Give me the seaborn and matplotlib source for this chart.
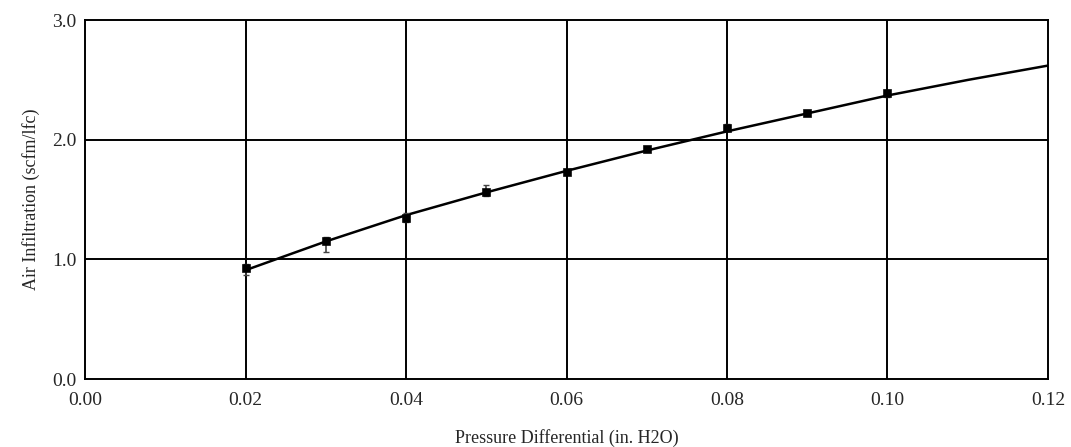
# Air infiltration vs pressure differential, measured points and fitted curve

import numpy as np
import pandas as pd
import matplotlib
matplotlib.use('Agg')
import matplotlib.pyplot as plt
import seaborn as sns

pressure = [0.02, 0.03, 0.04, 0.05, 0.06, 0.07, 0.08, 0.09, 0.10]
infiltration = [0.93, 1.15, 1.35, 1.56, 1.73, 1.92, 2.10, 2.22, 2.39]
err_low = [0.06, 0.09, 0.04, 0.03, 0.02, 0.01, 0.03, 0.01, 0.03]
err_high = [0.03, 0.04, 0.04, 0.06, 0.02, 0.01, 0.03, 0.01, 0.03]

# Fitted curve
fit_pressure = [0.02, 0.03, 0.04, 0.05, 0.06, 0.07, 0.08, 0.09, 0.10, 0.11, 0.12]
fit_infiltration = [0.91, 1.15, 1.37, 1.56, 1.74, 1.91, 2.07, 2.22, 2.37, 2.50, 2.62]

x_ticks = [0.00, 0.02, 0.04, 0.06, 0.08, 0.10, 0.12]
y_ticks = [0.0, 1.0, 2.0, 3.0]

points = pd.DataFrame({'pressure': pressure, 'infiltration': infiltration})
fit = pd.DataFrame({'pressure': fit_pressure, 'infiltration': fit_infiltration})

sns.set_style('white')
plt.rcParams['font.family'] = ['Liberation Serif', 'DejaVu Serif']

fig = plt.figure(figsize=(10.71, 4.47), dpi=100)
ax = fig.add_axes([0.0794, 0.152, 0.8991, 0.803])

# grid lines
for xv in x_ticks[1:-1]:
    ax.axvline(xv, color='black', lw=1.4, zorder=1)
for yv in y_ticks[1:-1]:
    ax.axhline(yv, color='black', lw=1.4, zorder=1)

sns.lineplot(data=fit, x='pressure', y='infiltration', color='black', lw=1.8, ax=ax, zorder=3)
ax.errorbar(pressure, infiltration, yerr=[err_low, err_high], fmt='none',
            ecolor='#444444', elinewidth=1.2, capsize=2.5, zorder=4)
sns.scatterplot(data=points, x='pressure', y='infiltration', marker='s', s=32,
                color='black', edgecolor='black', ax=ax, zorder=5)

ax.set_xlim(0, 0.12)
ax.set_ylim(0, 3.0)
ax.set_xticks(x_ticks)
ax.set_xticklabels([f'{v:.2f}' for v in x_ticks])
ax.set_yticks(y_ticks)
ax.set_yticklabels([f'{v:.1f}' for v in y_ticks])
ax.tick_params(axis='both', length=0, labelsize=14)
ax.tick_params(axis='x', pad=9)
ax.tick_params(axis='y', pad=6)

for spine in ax.spines.values():
    spine.set_visible(True)
    spine.set_color('black')
    spine.set_linewidth(1.4)

ax.set_xlabel('Pressure Differential (in. H2O)', fontsize=13, labelpad=15)
ax.set_ylabel('Air Infiltration (scfm/lfc)', fontsize=13, labelpad=9)

plt.savefig('out.png', dpi=100)
plt.close()
